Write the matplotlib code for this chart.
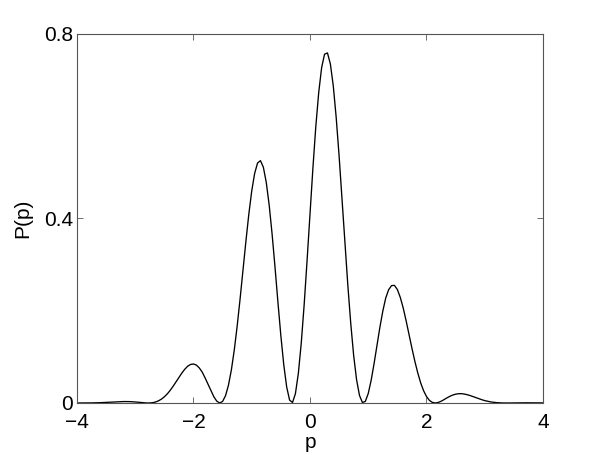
import matplotlib
matplotlib.use("Agg")
import matplotlib.pyplot as plt
import numpy as np

plt.rcParams['font.family'] = ['Liberation Sans', 'DejaVu Sans']

# sample grid, step 0.05 from -4 to 4
p = np.linspace(-4, 4, 161)

# P(p)
P = [
    0.0000, 0.0000, 0.0000, 0.0001, 0.0001, 0.0002, 0.0003, 0.0005, 0.0007, 0.0010,  # -4.00 .. -3.55
    0.0013, 0.0017, 0.0020, 0.0024, 0.0027, 0.0030, 0.0031, 0.0031, 0.0030, 0.0027,  # -3.50 .. -3.05
    0.0022, 0.0016, 0.0010, 0.0004, 0.0000, 0.0001, 0.0007, 0.0022, 0.0047, 0.0084,  # -3.00 .. -2.55
    0.0134, 0.0197, 0.0274, 0.0362, 0.0457, 0.0555, 0.0648, 0.0731, 0.0797, 0.0836,  # -2.50 .. -2.05
    0.0846, 0.0822, 0.0760, 0.0669, 0.0543, 0.0405, 0.0263, 0.0134, 0.0040, 0.0000,  # -2.00 .. -1.55
    0.0034, 0.0158, 0.0383, 0.0713, 0.1145, 0.1667, 0.2255, 0.2879, 0.3506, 0.4093,  # -1.50 .. -1.05
    0.4597, 0.4977, 0.5203, 0.5254, 0.5110, 0.4780, 0.4286, 0.3657, 0.2940, 0.2182,  # -1.00 .. -0.55
    0.1459, 0.0828, 0.0346, 0.0063, 0.0010, 0.0203, 0.0640, 0.1296, 0.2130, 0.3087,  # -0.50 .. -0.05
    0.4096, 0.5089, 0.5994, 0.6732, 0.7271, 0.7562, 0.7589, 0.7351, 0.6874, 0.6188,  #  0.00 ..  0.45
    0.5354, 0.4424, 0.3468, 0.2548, 0.1722, 0.1027, 0.0503, 0.0163, 0.0011, 0.0034,  #  0.50 ..  0.95
    0.0205, 0.0491, 0.0852, 0.1249, 0.1641, 0.1991, 0.2275, 0.2455, 0.2545, 0.2550,  #  1.00 ..  1.45
    0.2460, 0.2290, 0.2062, 0.1785, 0.1487, 0.1188, 0.0906, 0.0654, 0.0437, 0.0267,  #  1.50 ..  1.95
    0.0141, 0.0057, 0.0013, 0.0000, 0.0011, 0.0037, 0.0072, 0.0110, 0.0144, 0.0172,  #  2.00 ..  2.45
    0.0191, 0.0201, 0.0202, 0.0194, 0.0179, 0.0161, 0.0138, 0.0114, 0.0092, 0.0071,  #  2.50 ..  2.95
    0.0052, 0.0037, 0.0024, 0.0015, 0.0008, 0.0004, 0.0001, 0.0000, 0.0000, 0.0001,  #  3.00 ..  3.45
    0.0001, 0.0002, 0.0003, 0.0003, 0.0004, 0.0004, 0.0004, 0.0004, 0.0003, 0.0003,  #  3.50 ..  3.95
    0.0002,                                                                          #  4.00
]

xticks = [-4, -2, 0, 2, 4]
xtick_labels = ['\u22124', '\u22122', '0', '2', '4']
yticks = [0, 0.4, 0.8]
ytick_labels = ['0', '0.4', '0.8']

fig = plt.figure(figsize=(5.99, 4.55), dpi=100)
ax = fig.add_axes([0.1285, 0.1143, 0.778, 0.811])
ax.plot(p, P, color='black', linewidth=0.95)

ax.set_xlim(-4, 4)
ax.set_ylim(0, 0.8)
ax.set_xticks(xticks)
ax.set_xticklabels(xtick_labels)
ax.set_yticks(yticks)
ax.set_yticklabels(ytick_labels)
ax.tick_params(direction='in', top=True, right=True, length=4, width=0.6,
               color='#555555', labelsize=15)
ax.tick_params(axis='x', pad=7)
ax.tick_params(axis='y', pad=3)
for s in ax.spines.values():
    s.set_color('#555555')
    s.set_linewidth(0.8)

ax.set_xlabel('p', fontsize=15, labelpad=1)
ax.set_ylabel('P(p)', fontsize=15, labelpad=8)

fig.savefig('out.png', dpi=100)
